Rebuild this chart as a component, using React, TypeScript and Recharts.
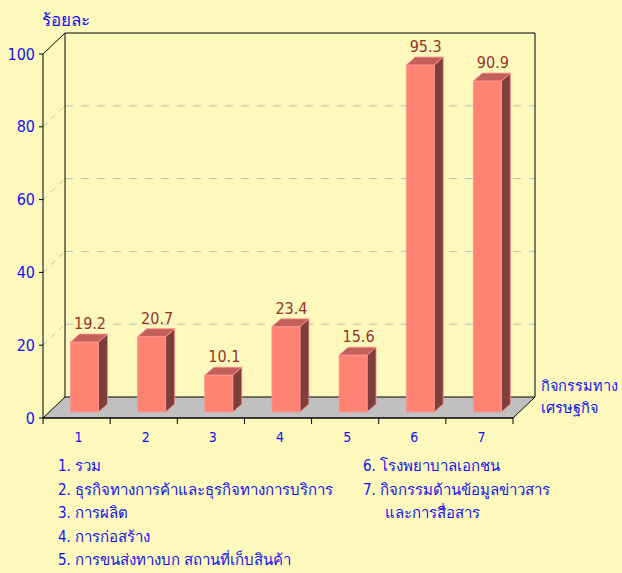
import { Bar, BarChart, CartesianGrid, LabelList, ReferenceArea, XAxis, YAxis } from "recharts";

const categories = ["1", "2", "3", "4", "5", "6", "7"];
const shares = [19.2, 20.7, 10.1, 23.4, 15.6, 95.3, 90.9];
const yTicks = [0, 20, 40, 60, 80, 100];
const gridValues = [20, 40, 60, 80];
const legendLeft = [
  "1. รวม",
  "2. ธุรกิจทางการค้าและธุรกิจทางการบริการ",
  "3. การผลิต",
  "4. การก่อสร้าง",
  "5. การขนส่งทางบก สถานที่เก็บสินค้า",
];
const legendRight = ["6. โรงพยาบาลเอกชน", "7. กิจกรรมด้านข้อมูลข่าวสาร", "และการสื่อสาร"];

const data = categories.map((c, i) => ({ name: c, value: shares[i] }));

const W = 622;
const H = 573;
const MARGIN = { top: 54, right: 109, bottom: 0, left: 0 };
const Y_W = 43;
const BAND = (W - MARGIN.left - MARGIN.right - Y_W) / categories.length;

// depth of the box and of the bars
const DX = 22;
const DY = -21;
const SHIFT_X = 7.5;
const SHIFT_Y = -6;
const BDX = 9;
const BDY = -8;

const FONT = "Tahoma, 'DejaVu Sans Condensed', 'DejaVu Sans', sans-serif";
const BLUE = "#1212F0";
const BG = "#FDF9BD";

const Bar3D = (p: any) => {
  const { x, y, width, height } = p;
  const fx = x + SHIFT_X;
  const fy = y + SHIFT_Y;
  return (
    <g>
      <polygon
        points={`${fx + width},${fy} ${fx + width + BDX},${fy + BDY} ${fx + width + BDX},${fy + height + BDY} ${fx + width},${fy + height}`}
        fill="#7E3E3C"
        stroke="#FF9090"
        strokeWidth={0.8}
      />
      <polygon
        points={`${fx},${fy} ${fx + BDX},${fy + BDY} ${fx + width + BDX},${fy + BDY} ${fx + width},${fy}`}
        fill="#C4605A"
        stroke="#FF9090"
        strokeWidth={0.8}
      />
      <rect x={fx} y={fy} width={width} height={height} fill="#FF8373" stroke="#FF9494" strokeWidth={0.8} />
    </g>
  );
};

const Box = (p: any) => {
  const { x, y, width, height } = p;
  const b = y + height;
  return (
    <g>
      <polygon
        points={`${x},${b} ${x + width},${b} ${x + width + DX},${b + DY} ${x + DX},${b + DY}`}
        fill="#C0C0C0"
        stroke="#000"
        strokeWidth={1}
      />
      <line x1={x + DX} y1={y + DY} x2={x + DX} y2={b + DY} stroke="#000" />
      <line x1={x + DX} y1={y + DY} x2={x + width + DX} y2={y + DY} stroke="#000" />
      <line x1={x + width + DX} y1={y + DY} x2={x + width + DX} y2={b + DY} stroke="#000" />
      <line x1={x} y1={y} x2={x + DX} y2={y + DY} stroke="#000" />
    </g>
  );
};

const gridLine = (p: any) => (
  <g key={p.key ?? `g-${p.y1}`}>
    <line x1={p.x1} y1={p.y1} x2={p.x1 + DX} y2={p.y1 + DY} stroke="#BDBDBD" strokeDasharray="6 5" />
    <line x1={p.x1 + DX} y1={p.y1 + DY} x2={p.x2 + DX} y2={p.y2 + DY} stroke="#BDBDBD" strokeDasharray="8 8" />
  </g>
);

const XTick = (p: any) => {
  const { x, y, payload, index } = p;
  const top = y - 14;
  return (
    <g>
      {index === 0 && <line x1={x - BAND / 2} y1={top} x2={x - BAND / 2} y2={top + 6} stroke="#000" />}
      <line x1={x + BAND / 2} y1={top} x2={x + BAND / 2} y2={top + 6} stroke="#000" />
      <text x={x + 2} y={y} dy="0.71em" textAnchor="middle" fill={BLUE} fontSize={14} fontFamily={FONT}>
        {payload.value}
      </text>
    </g>
  );
};

const ValueLabel = (p: any) => {
  const { x, y, width, value } = p;
  return (
    <text
      x={x + width / 2 + SHIFT_X + BDX / 2 + 1}
      y={y + SHIFT_Y + BDY - 5}
      textAnchor="middle"
      fill="#943428"
      fontSize={16}
      fontFamily={FONT}
    >
      {value}
    </text>
  );
};

export default function App() {
  return (
    <div
      style={{
        position: "absolute",
        left: 0,
        top: 0,
        width: W,
        height: H,
        overflow: "hidden",
        background: BG,
        fontFamily: FONT,
      }}
    >
      <BarChart width={W} height={H} data={data} margin={MARGIN}>
        <ReferenceArea y1={0} y2={100} shape={Box} ifOverflow="visible" />
        <CartesianGrid vertical={false} horizontalValues={gridValues} horizontal={gridLine} />
        <XAxis
          dataKey="name"
          height={155}
          axisLine={{ stroke: "#000" }}
          tickLine={false}
          tickSize={6}
          tickMargin={8}
          tick={XTick}
        />
        <YAxis
          width={Y_W}
          domain={[0, 100]}
          ticks={yTicks}
          axisLine={{ stroke: "#000" }}
          tickLine={{ stroke: "#000" }}
          tickSize={4}
          tickMargin={4}
          tick={{ fill: BLUE, fontSize: 16, fontFamily: FONT }}
        />
        <Bar dataKey="value" barSize={28} shape={Bar3D} isAnimationActive={false}>
          <LabelList dataKey="value" content={ValueLabel} />
        </Bar>
      </BarChart>
      <div style={{ position: "absolute", left: 42, top: 6, color: BLUE, fontSize: 17, whiteSpace: "nowrap" }}>ร้อยละ</div>
      <div
        style={{
          position: "absolute",
          left: 541,
          top: 375,
          color: BLUE,
          fontSize: 14.5,
          lineHeight: "22px",
          whiteSpace: "nowrap",
        }}
      >
        กิจกรรมทาง
        <br />
        เศรษฐกิจ
      </div>
      <div style={{ position: "absolute", left: 58, top: 455, color: BLUE, fontSize: 15, lineHeight: "23.5px" }}>
        {legendLeft.map((t) => (
          <div key={t}>{t}</div>
        ))}
      </div>
      <div style={{ position: "absolute", left: 363, top: 455, color: BLUE, fontSize: 15, lineHeight: "23.5px" }}>
        {legendRight.map((t, i) => (
          <div key={t} style={{ paddingLeft: i === 2 ? 22 : 0 }}>
            {t}
          </div>
        ))}
      </div>
    </div>
  );
}
